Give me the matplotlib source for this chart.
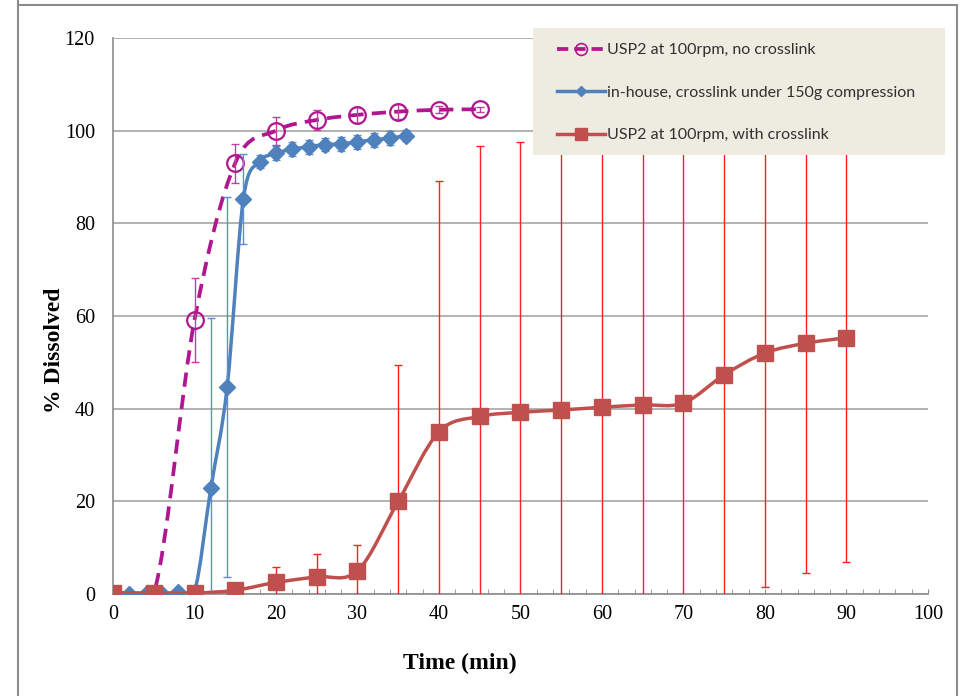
import matplotlib
matplotlib.use("Agg")
import matplotlib.pyplot as plt
import numpy as np
from matplotlib.path import Path
from matplotlib.patches import PathPatch, Rectangle
from matplotlib.lines import Line2D

# USP2 at 100rpm, no crosslink
t_usp = [0, 5, 10, 15, 20, 25, 30, 35, 40, 45]
d_usp = [0, 0, 59.1, 93.0, 100.0, 102.3, 103.4, 104.1, 104.5, 104.6]
e_usp = [0, 0, 9.1, 4.2, 3.0, 2.2, 1.8, 1.6, 0.8, 0.5]

# in-house, crosslink under 150g compression
t_inh = [0, 2, 4, 6, 8, 10, 12, 14, 16, 18, 20, 22, 24, 26, 28, 30, 32, 34, 36]
d_inh = [0, 0, 0, 0, 0.4, 0.5, 22.8, 44.6, 85.3, 93.3, 95.1, 96.0, 96.5, 97.0,
         97.1, 97.6, 98.0, 98.4, 98.9]
e_inh = [0, 0, 0, 0, 0.3, 0.5, 36.8, 41.0, 9.7, 1.4, 1.5, 1.5, 1.5, 1.5,
         1.5, 1.5, 1.5, 1.5, 1.2]

# USP2 at 100rpm, with crosslink
t_xl = [0, 5, 10, 15, 20, 25, 30, 35, 40, 45, 50, 55, 60, 65, 70, 75, 80, 85, 90]
d_xl = [0.3, 0.2, 0.2, 0.8, 2.5, 3.7, 5.0, 20.0, 35.0, 38.3, 39.2, 39.7, 40.3,
        40.8, 41.2, 47.3, 52.0, 54.1, 55.3]
e_xl = [0, 0, 0, 0.5, 3.4, 4.9, 5.6, 29.4, 54.2, 58.3, 58.4, 58.0, 58.0,
        57.0, 56.0, 55.0, 50.4, 49.5, 48.5]

labels = ["USP2 at 100rpm, no crosslink",
          "in-house, crosslink under 150g compression",
          "USP2 at 100rpm, with crosslink"]

purple = "#B0178E"
blue = "#4F81BD"
red = "#C0504D"


def smooth(x, y):
    # excel style smoothed line: bezier segments through the points
    p = np.column_stack([x, y]).astype(float)
    n = len(p)
    verts = [p[0]]
    codes = [Path.MOVETO]
    for i in range(n - 1):
        p0, p1 = p[max(i - 1, 0)], p[i]
        p2, p3 = p[i + 1], p[min(i + 2, n - 1)]
        verts += [p1 + (p2 - p0) / 6, p2 - (p3 - p1) / 6, p2]
        codes += [Path.CURVE4] * 3
    return Path(verts, codes)


fig = plt.figure(figsize=(9.61, 6.96), dpi=100)
ax = fig.add_axes([0.1176, 0.1466, 0.848, 0.7989])

# series 1 - dashed purple, open circles
ax.add_patch(PathPatch(smooth(t_usp, d_usp), fill=False, edgecolor=purple,
                       lw=2.7, linestyle=(0, (3.8, 2.2)), zorder=2))
ax.errorbar(t_usp, d_usp, yerr=e_usp, fmt="none", ecolor="#C040A0",
            elinewidth=1, capsize=3, capthick=1, zorder=2)
ax.plot(t_usp, d_usp, ls="none", marker="o", ms=12, mfc="none",
        mec=purple, mew=1.6, zorder=2.5)

# series 2 - solid blue, diamonds
ax.add_patch(PathPatch(smooth(t_inh, d_inh), fill=False, edgecolor=blue,
                       lw=2.5, zorder=3))
ax.errorbar(t_inh, d_inh, yerr=e_inh, fmt="none", ecolor="#5B8FD0",
            elinewidth=1, capsize=3, capthick=1, zorder=3)
ax.plot(t_inh, d_inh, ls="none", marker="D", ms=8, mfc=blue, mec=blue,
        zorder=3.5)

# series 3 - solid red, squares
ax.add_patch(PathPatch(smooth(t_xl, d_xl), fill=False, edgecolor=red,
                       lw=2.5, zorder=4))
ax.errorbar(t_xl, d_xl, yerr=e_xl, fmt="none", ecolor="#FF2020",
            elinewidth=1, capsize=3, capthick=1, zorder=4)
ax.plot(t_xl, d_xl, ls="none", marker="s", ms=12, mfc=red, mec=red,
        zorder=4.5)

ax.set_xlim(0, 100)
ax.set_ylim(0, 120)
ax.set_xticks(range(0, 101, 10))
ax.set_yticks(range(0, 121, 20))
ax.set_xticks(range(0, 101, 2), minor=True)
ax.grid(axis="y", color="#A6A6A6", lw=1.2)
ax.set_axisbelow(True)
for s in ("top", "right"):
    ax.spines[s].set_visible(False)
for s in ("left", "bottom"):
    ax.spines[s].set_color("#8C8C8C")
    ax.spines[s].set_linewidth(1.2)
ax.tick_params(axis="x", which="both", direction="in", length=3.5,
               color="#8C8C8C", pad=8)
ax.tick_params(axis="y", length=0, pad=13)
for lab in ax.get_xticklabels() + ax.get_yticklabels():
    lab.set_fontfamily("Liberation Serif")
    lab.set_fontsize(14.5)

fig.text(55 / 961, 1 - 350 / 696, "% Dissolved", rotation=90, ha="center",
         va="center", family="Liberation Serif", weight="bold", fontsize=17)
fig.text(460 / 961, 1 - 663 / 696, "Time (min)", ha="center", va="center",
         family="Liberation Serif", weight="bold", fontsize=17)

# legend box
fig.add_artist(Rectangle((533 / 961, 1 - 155 / 696), 412 / 961, 127 / 696,
                         transform=fig.transFigure, facecolor="#EEECE1",
                         edgecolor="none", zorder=5))
handles = [
    Line2D([], [], color=purple, lw=2.7, ls=(0, (3.0, 1.6)), marker="o",
           ms=8.5, mfc="none", mec=purple, mew=1.2),
    Line2D([], [], color=blue, lw=2.5, marker="D", ms=5.5, mfc=blue, mec=blue),
    Line2D([], [], color=red, lw=2.5, marker="s", ms=9, mfc=red, mec=red),
]
leg = fig.legend(handles, labels, loc="upper left",
                 bbox_to_anchor=(557 / 961, 1 - 43 / 696), frameon=False,
                 borderpad=0, borderaxespad=0, handlelength=3.0,
                 handletextpad=0.12, labelspacing=1.78,
                 prop={"family": "Lato", "size": 11.5})
leg.set_zorder(6)
for txt in leg.get_texts():
    txt.set_color("#303030")

# chart area frame
frame = [((18, 18), (0, 696)), ((18, 957), (5, 5)), ((957, 957), (5, 696))]
for xs, ys in frame:
    fig.add_artist(Line2D([xs[0] / 961, xs[1] / 961],
                          [1 - ys[0] / 696, 1 - ys[1] / 696],
                          transform=fig.transFigure, color="#8C8C8C", lw=1.5))

fig.savefig("out.png", dpi=100)
